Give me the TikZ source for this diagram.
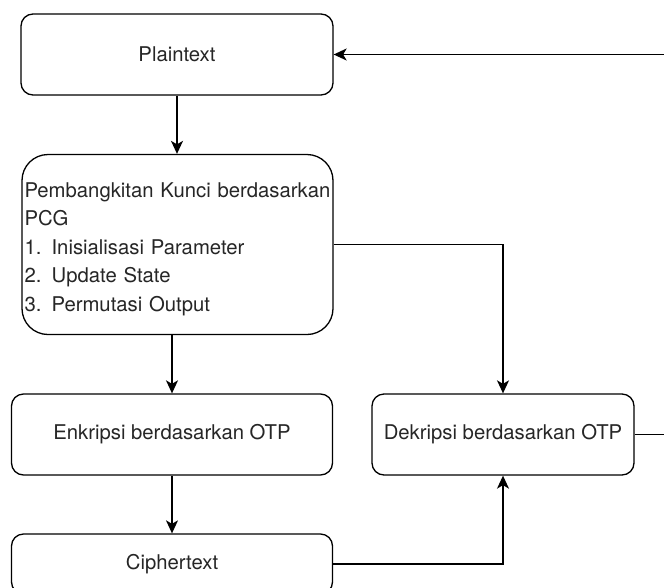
\documentclass[tikz,border=0pt]{standalone}
\usepackage{fontspec}
\setmainfont{TeX Gyre Heros}
\usetikzlibrary{arrows.meta}
\begin{document}
\begin{tikzpicture}[x=1pt,y=-1pt,
  box/.style={draw=black,line width=1.3pt,fill=white,rounded corners=12pt,
    minimum width=#1,inner sep=0pt,font=\fontsize{20.3}{28.5}\selectfont,text=black!85},
  conn/.style={line width=1.4pt,draw=black},
  tip/.style={-{Stealth[length=13pt,width=12pt,inset=3.5pt]}}]
\useasboundingbox (0,0) rectangle (664,587);
\clip (0,0) rectangle (664,587);
\node[box=312pt,minimum height=81pt] (plain) at (177,54.5) {Plaintext};
\node[box=311pt,minimum height=180pt,rounded corners=26pt,align=left,
  text width=306pt] (pcg) at (177.5,244.5)
  {\rule{0pt}{24pt}Pembangkitan Kunci berdasarkan\\PCG\\1. Inisialisasi Parameter\\2. Update State\\3. Permutasi Output};
\node[box=321pt,minimum height=81pt] (enk) at (172,434.5) {Enkripsi berdasarkan OTP};
\node[box=262pt,minimum height=81pt] (dek) at (503,434.5) {Dekripsi berdasarkan OTP};
\node[box=321pt,minimum height=60pt] (ciph) at (172,564) {Ciphertext};
\draw[conn,tip] (plain.south) -- (plain.south |- pcg.north);
\draw[conn,tip] (enk.north |- pcg.south) -- (enk.north);
\draw[conn,tip] (enk.south) -- (ciph.north);
\draw[conn,tip] (pcg.east) -| (dek.north);
\draw[conn,tip] (ciph.east) -| (dek.south);
\draw[conn,tip] (dek.east) -- ++(60,0) |- (plain.east);
\end{tikzpicture}
\end{document}
